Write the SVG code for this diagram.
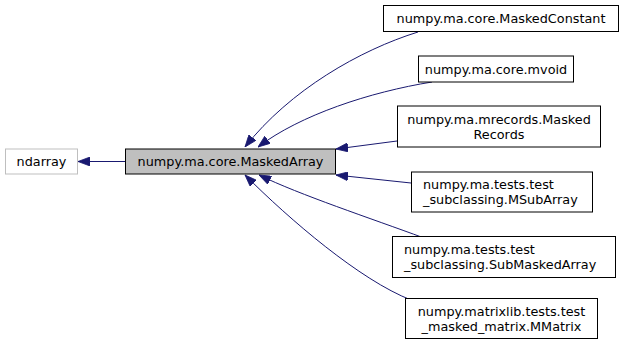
<svg xmlns="http://www.w3.org/2000/svg" width="624" height="350" viewBox="0 0 624 350">
  <style>
    .node rect { fill: #ffffff; stroke: #000000; stroke-width: 1; }
    .node.base rect { stroke: #bfbfbf; }
    .node.current rect { fill: #bfbfbf; }
    .node text { font-family: "DejaVu Sans", "Liberation Sans", sans-serif; font-size: 12.8px; fill: #000000; }
    .c { text-anchor: middle; }
    .l { text-anchor: start; }
    .edge { fill: none; stroke: #191970; stroke-width: 1; marker-end: url(#head); }
  </style>
  <defs>
    <marker id="head" viewBox="0 0 12 9" refX="12" refY="4.5" markerWidth="12" markerHeight="9" markerUnits="userSpaceOnUse" orient="auto">
      <path d="M12,4.5 L0,0 L0,9 z" fill="#191970" stroke="#191970" stroke-width="0.8"/>
    </marker>
  </defs>

  <g id="edges">
    <path class="edge" d="M125,161.5 L78,161.5"/>
    <path class="edge" d="M418,32 C360,50 290,90 245,147"/>
    <path class="edge" d="M432,82 C370,92 300,115 258,147"/>
    <path class="edge" d="M397,141 L336,149"/>
    <path class="edge" d="M411,183 L336,175"/>
    <path class="edge" d="M424,238 C370,218 300,195 259,175"/>
    <path class="edge" d="M411,300 C360,280 290,220 245,175"/>
  </g>

  <g id="ndarray" class="node base">
    <rect x="5.5" y="149" width="72" height="25"/>
    <text class="c" x="41.5" y="166">ndarray</text>
  </g>
  <g id="MaskedArray" class="node current">
    <rect x="125.5" y="149" width="210" height="25"/>
    <text class="c" x="230.5" y="166">numpy.ma.core.MaskedArray</text>
  </g>
  <g id="MaskedConstant" class="node">
    <rect x="383.5" y="5.5" width="235" height="26"/>
    <text class="c" x="501" y="23">numpy.ma.core.MaskedConstant</text>
  </g>
  <g id="mvoid" class="node">
    <rect x="418.5" y="56" width="155" height="26"/>
    <text class="c" x="496" y="73.5">numpy.ma.core.mvoid</text>
  </g>
  <g id="MaskedRecords" class="node">
    <rect x="397.5" y="106" width="203" height="41"/>
    <text class="c" x="499" y="124">numpy.ma.mrecords.Masked</text>
    <text class="c" x="499" y="139">Records</text>
  </g>
  <g id="MSubArray" class="node">
    <rect x="411.5" y="172" width="181" height="40"/>
    <text class="l" x="423" y="189">numpy.ma.tests.test</text>
    <text class="l" x="423" y="204">_subclassing.MSubArray</text>
  </g>
  <g id="SubMaskedArray" class="node">
    <rect x="392.5" y="236.5" width="223" height="41"/>
    <text class="l" x="404" y="254">numpy.ma.tests.test</text>
    <text class="l" x="404" y="269">_subclassing.SubMaskedArray</text>
  </g>
  <g id="MMatrix" class="node">
    <rect x="405.5" y="298.5" width="192" height="40"/>
    <text class="c" x="501.5" y="316">numpy.matrixlib.tests.test</text>
    <text class="c" x="501.5" y="331">_masked_matrix.MMatrix</text>
  </g>
</svg>
